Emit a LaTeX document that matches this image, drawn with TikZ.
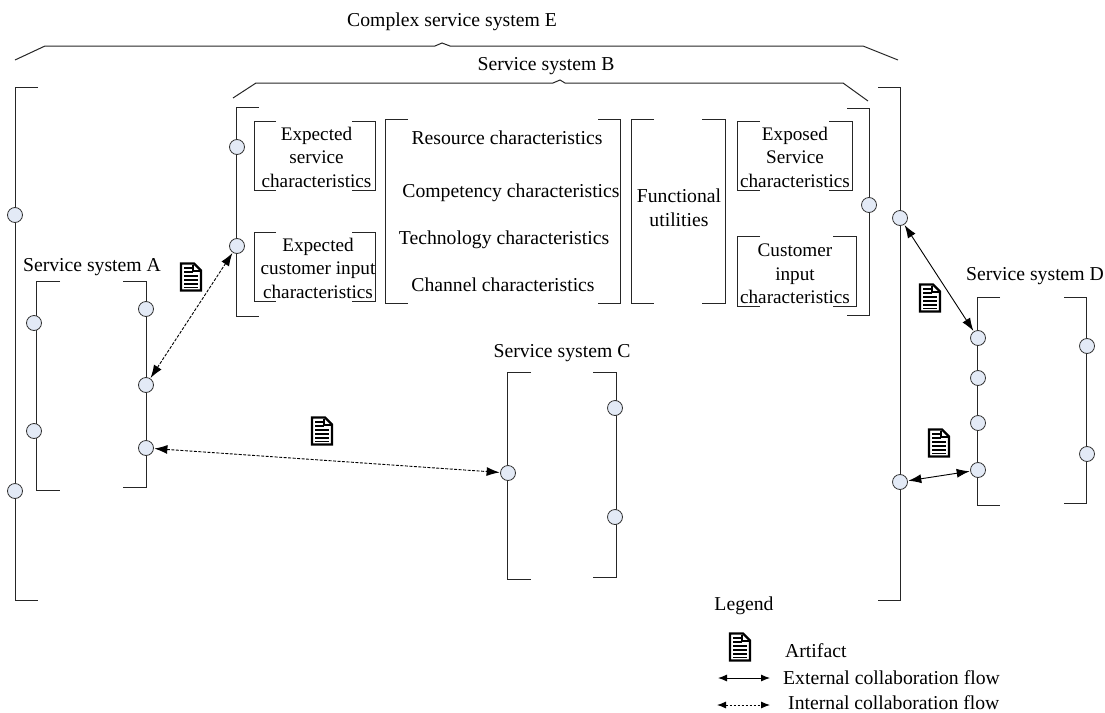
\documentclass[tikz,border=0pt]{standalone}
\usepackage{fontspec}
\setmainfont{Liberation Serif}
\usetikzlibrary{arrows.meta}
\definecolor{portfill}{HTML}{E3EAF6}
\tikzset{
    frame/.style={line width=1pt, black!85},
    brace/.style={line width=1pt, black!85},
    port/.style={circle, draw=black!80, fill=portfill, line width=0.8pt, minimum size=15pt, inner sep=0pt},
    label/.style={font=\fontsize{19.7}{23.5}\selectfont, align=center, inner sep=0pt},
    boxlabel/.style={font=\fontsize{19.2}{23.5}\selectfont, align=center, inner sep=0pt},
    external/.style={line width=0.9pt, {Latex[length=13pt,width=9pt]}-{Latex[length=13pt,width=9pt]}, shorten >=0.5pt, shorten <=0.5pt},
    internal/.style={external, dash pattern=on 3pt off 1.5pt},
    legendflow/.style={line width=0.9pt, {Latex[length=9pt,width=7pt]}-{Latex[length=9pt,width=7pt]}},
    pics/artifact/.style={code={
        \draw (-10,-13.5)--(3,-13.5)--(10,-6.5)--(10,13.5)--(-10,13.5)--cycle [black, line width=2.2pt, fill=white];
        \draw (-7,-9)--(1.5,-9) [black, line width=1.5pt];
        \draw (-7,-5)--(1.5,-5) [black, line width=1.5pt];
        \draw (2,-12)--(2,-6)--(9,-6) [black, line width=1.5pt];
        \draw (-7,-1)--(7,-1) [black, line width=1.5pt];
        \draw (-7,3)--(7,3) [black, line width=1.5pt];
        \draw (-7,7)--(7,7) [black, line width=1.5pt];
        \draw (-7,10.5)--(7,10.5) [black, line width=1.5pt];
    }},
}
\begin{document}
\begin{tikzpicture}[x=1pt, y=-1pt]
    \useasboundingbox (0,0) rectangle (1105,712);
    % braces
    \draw (15,60)--(45,46)--(435,46)--(442,43)--(450,46)--(863,46)--(898,60) [brace];
    \draw (233,98)--(256,83)--(553,83)--(560,80)--(565,83)--(843,83)--(868,101) [brace];
    % system E
    \draw (38,87)--(15.5,87)--(15.5,600)--(38,600) [frame];
    \draw (878,87)--(900.5,87)--(900.5,600)--(878,600) [frame];
    % system A
    \draw (60,281)--(36.5,281)--(36.5,490)--(60,490) [frame];
    \draw (123,281)--(146,281)--(146,487)--(123,487) [frame];
    % system B
    \draw (259,107)--(236.5,107)--(236.5,316)--(259,316) [frame];
    \draw (847,108)--(869,108)--(869,315)--(847,315) [frame];
    \draw (276,121)--(254,121)--(254,190)--(276,190) [frame];
    \draw (352,121)--(375,121)--(375,190)--(352,190) [frame];
    \draw (276,232)--(254,232)--(254,301)--(276,301) [frame];
    \draw (352,232)--(375,232)--(375,301)--(352,301) [frame];
    \draw (408,119)--(385.5,119)--(385.5,303)--(408,303) [frame];
    \draw (598,119)--(620,119)--(620,303)--(598,303) [frame];
    \draw (654,119)--(631.5,119)--(631.5,303)--(654,303) [frame];
    \draw (702,119)--(725,119)--(725,303)--(702,303) [frame];
    \draw (760,121)--(737.5,121)--(737.5,190)--(760,190) [frame];
    \draw (829,121)--(852,121)--(852,190)--(829,190) [frame];
    \draw (760,236)--(737.5,236)--(737.5,306)--(760,306) [frame];
    \draw (833,236)--(856,236)--(856,306)--(833,306) [frame];
    % system C
    \draw (531,372)--(507.5,372)--(507.5,579)--(531,579) [frame];
    \draw (593,372)--(616,372)--(616,577)--(593,577) [frame];
    % system D
    \draw (1000,297)--(977.5,297)--(977.5,505)--(1000,505) [frame];
    \draw (1064,297)--(1086.5,297)--(1086.5,503)--(1064,503) [frame];
    % ports
    \node (e1) at (15,215) [port] {};
    \node (e2) at (15,491) [port] {};
    \node (e3) at (900,218) [port] {};
    \node (e4) at (900,482) [port] {};
    \node (a1) at (34,323) [port] {};
    \node (a2) at (34,431) [port] {};
    \node (a3) at (146,309) [port] {};
    \node (a4) at (146,385) [port] {};
    \node (a5) at (146,448) [port] {};
    \node (b1) at (237,147) [port] {};
    \node (b2) at (237,246) [port] {};
    \node (b3) at (869,205) [port] {};
    \node (c1) at (508,473) [port] {};
    \node (c2) at (615,408) [port] {};
    \node (c3) at (615,517) [port] {};
    \node (d1) at (978,338) [port] {};
    \node (d2) at (978,378) [port] {};
    \node (d3) at (978,423) [port] {};
    \node (d4) at (978,470) [port] {};
    \node (d5) at (1087,346) [port] {};
    \node (d6) at (1087,454) [port] {};
    % flows
    \draw (a4)--(b2) [internal];
    \draw (a5)--(c1) [internal];
    \draw (e3)--(d1) [external];
    \draw (e4)--(d4) [external];
    % artifacts
    \pic at (191,277) {artifact};
    \pic at (322,431) {artifact};
    \pic at (930,298) {artifact};
    \pic at (939,443) {artifact};
    \pic at (740,647) {artifact};
    % titles
    \node (titleE) at (452,21.5) [label] {Complex service system E};
    \node (titleB) at (546,66.5) [label] {Service system B};
    \node (titleA) at (92,267.5) [label] {Service system A};
    \node (titleC) at (562,353.5) [label] {Service system C};
    \node (titleD) at (1035,276.5) [label] {Service system D};
    % characteristics
    \node (expected) at (316.5,157) [boxlabel] {Expected\\service\\characteristics};
    \node (expectedinput) at (318,268) [boxlabel] {Expected\\customer input\\characteristics};
    \node (resource) at (507,138) [label] {Resource characteristics};
    \node (competency) at (511,193) [label] {Competency characteristics};
    \node (technology) at (504,240) [label] {Technology characteristics};
    \node (channel) at (503,285) [label] {Channel characteristics};
    \node (functional) at (679,208) [label] {Functional\\utilities};
    \node (exposed) at (795,157) [boxlabel] {Exposed\\Service\\characteristics};
    \node (customer) at (795,274) [boxlabel] {Customer\\input\\characteristics};
    % legend
    \node (legend) at (744,606) [label] {Legend};
    \node (artifact) at (785,651) [label, anchor=west] {Artifact};
    \node (externalflow) at (783,677.5) [label, anchor=west] {External collaboration flow};
    \node (internalflow) at (788,702.5) [label, anchor=west] {Internal collaboration flow};
    \coordinate (ext1) at (718,678);
    \coordinate (ext2) at (770,678);
    \coordinate (int1) at (717,705);
    \coordinate (int2) at (770,705);
    \draw (ext1)--(ext2) [legendflow];
    \draw (int1)--(int2) [legendflow, dash pattern=on 2.5pt off 1.5pt];
\end{tikzpicture}
\end{document}
